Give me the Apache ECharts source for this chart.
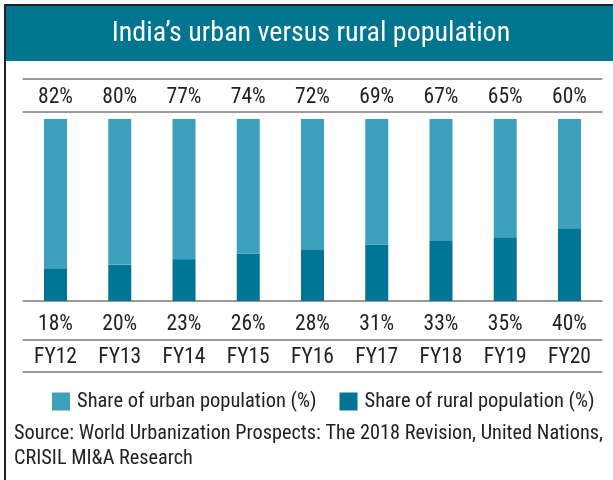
<!DOCTYPE html>
<html>
<head>
<meta charset="utf-8">
<script src="https://cdn.jsdelivr.net/npm/echarts@6/dist/echarts.min.js"></script>
<style>html,body{margin:0;padding:0;background:#fff;}#c{width:613px;height:480px;}</style>
</head>
<body>
<div id="c"></div>
<script>
var categories = ['FY12','FY13','FY14','FY15','FY16','FY17','FY18','FY19','FY20'];
var urbanShare = [82,80,77,74,72,69,67,65,60];
var ruralShare = [18,20,23,26,28,31,33,35,40];
var titleText = 'India\u2019s urban versus rural population';
var sourceLines = ['Source: World Urbanization Prospects: The 2018 Revision, United Nations,', 'CRISIL MI&A Research'];

var FONT = "'Liberation Sans Narrow','Arial Narrow','Roboto Condensed','DejaVu Sans Condensed',sans-serif";
var LIGHT = '#3DA1BD', DARK = '#007596', BAND = '#00758F', LINE = '#999999';

var chart = echarts.init(document.getElementById('c'));
function rowAxis(pos, offset, showLabels) {
  return {
    type: 'category', data: categories, position: pos, offset: offset,
    axisLine: {show: true, lineStyle: {color: LINE, width: 2}},
    axisTick: {show: false},
    axisLabel: showLabels ? {show: true, margin: 7, fontFamily: FONT, fontSize: 21.5, color: '#222'} : {show: false},
    gridIndex: 0
  };
}
chart.setOption({
  animation: false,
  grid: {left: 23.4, right: 11.4, top: 119, bottom: 179},
  xAxis: [
    rowAxis('bottom', 7, false),
    rowAxis('bottom', 39, true),
    rowAxis('bottom', 71, false),
    rowAxis('top', 7, false),
    rowAxis('top', 40, false)
  ],
  yAxis: {type: 'value', min: 0, max: 100, show: false},
  legend: {
    left: 47, top: 386, itemWidth: 18, itemHeight: 18, itemGap: 23,
    icon: 'rect', data: ['Share of urban population (%)', 'Share of rural population (%)'],
    textStyle: {fontFamily: FONT, fontSize: 20.5, color: '#222', padding: [0,0,0,2]}
  },
  series: [
    {
      name: 'Share of rural population (%)', type: 'bar', stack: 's', xAxisIndex: 0,
      data: ruralShare, barWidth: 23, itemStyle: {color: DARK},
      label: {show: true, position: 'bottom', distance: 13, formatter: '{c}%', fontFamily: FONT, fontSize: 21.5, color: '#222'}
    },
    {
      name: 'Share of urban population (%)', type: 'bar', stack: 's', xAxisIndex: 0,
      data: urbanShare, barWidth: 23, itemStyle: {color: LIGHT},
      label: {show: true, position: 'top', distance: 10, formatter: '{c}%', fontFamily: FONT, fontSize: 21.5, color: '#222'}
    }
  ],
  graphic: [
    {type: 'rect', shape: {x: 6, y: 6, width: 607, height: 55}, style: {fill: BAND}, z: 0},
    {type: 'line', shape: {x1: 4, y1: 5, x2: 613, y2: 5}, style: {stroke: '#222', lineWidth: 2}},
    {type: 'line', shape: {x1: 5, y1: 4, x2: 5, y2: 480}, style: {stroke: '#222', lineWidth: 2}},
    {type: 'text', x: 311, y: 34, style: {text: titleText, fill: '#fff', font: '28px ' + FONT, align: 'center', verticalAlign: 'middle'}},
    {type: 'text', x: 14, y: 434, style: {text: sourceLines[0], fill: '#222', font: '20.3px ' + FONT, verticalAlign: 'middle'}},
    {type: 'text', x: 14, y: 459, style: {text: sourceLines[1], fill: '#222', font: '20.3px ' + FONT, verticalAlign: 'middle'}}
  ]
});
</script>
</body>
</html>
